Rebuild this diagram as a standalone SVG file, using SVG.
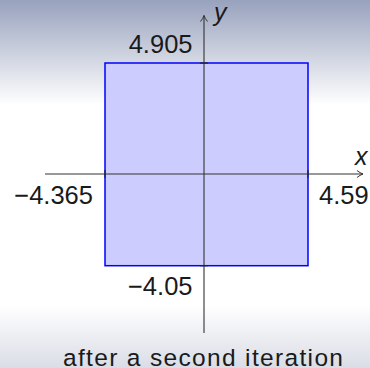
<svg xmlns="http://www.w3.org/2000/svg" width="370" height="368" viewBox="0 0 370 368">
<defs>
<linearGradient id="bgTop" x1="0" y1="0" x2="0" y2="1">
<stop offset="0" stop-color="#98a2bd"/>
<stop offset="1" stop-color="#ffffff"/>
</linearGradient>
<linearGradient id="bgBot" x1="0" y1="0" x2="0" y2="1">
<stop offset="0" stop-color="#ffffff"/>
<stop offset="1" stop-color="#dadde6"/>
</linearGradient>
<marker id="arr" viewBox="0 0 10 10" refX="9" refY="5" markerWidth="10" markerHeight="10" markerUnits="userSpaceOnUse" orient="auto">
<path d="M3,1.5 Q6,4 9,5 Q6,6 3,8.5" fill="none" stroke="#333" stroke-width="1"/>
</marker>
<style>
.ax{stroke:#333;stroke-width:1.1;fill:none}
.tick{stroke:#222;stroke-width:1.1}
.num{font-family:"Liberation Sans",Arial,sans-serif;font-size:25.5px;fill:#1a1a1a}
.var{font-family:"Liberation Sans",Arial,sans-serif;font-size:25px;font-style:italic;fill:#1a1a1a}
.cap{font-family:"Liberation Sans",Arial,sans-serif;font-size:24.5px;fill:#1a1a1a}
</style>
</defs>
<rect x="0" y="0" width="370" height="368" fill="#ffffff"/>
<rect x="0" y="0" width="370" height="105" fill="url(#bgTop)"/>
<rect x="0" y="305" width="370" height="63" fill="url(#bgBot)"/>
<g id="square">
<rect x="105" y="63" width="203" height="202.7" fill="#ccccff" stroke="#0000ff" stroke-width="1.5"/>
</g>
<g id="connectors">
<line id="x-axis" class="ax" x1="45" y1="174" x2="363" y2="174" marker-end="url(#arr)"/>
<line id="y-axis" class="ax" x1="204" y1="333" x2="204" y2="15.5" marker-end="url(#arr)"/>
<line class="tick" x1="105" y1="170" x2="105" y2="178"/>
<line class="tick" x1="308" y1="170" x2="308" y2="178"/>
<line class="tick" x1="200" y1="63" x2="208" y2="63"/>
<line class="tick" x1="200" y1="265.7" x2="208" y2="265.7"/>
</g>
<g id="labels">
<text class="var" x="214" y="21">y</text>
<text class="var" x="355" y="165">x</text>
<text class="num" x="192.5" y="53" text-anchor="end">4.905</text>
<text class="num" x="93" y="204" text-anchor="end">−4.365</text>
<text class="num" x="319" y="204">4.59</text>
<text class="num" x="192.5" y="295" text-anchor="end">−4.05</text>
</g>
<g id="caption">
<text class="cap" x="63" y="366" textLength="280" lengthAdjust="spacing">after a second iteration</text>
</g>
</svg>
